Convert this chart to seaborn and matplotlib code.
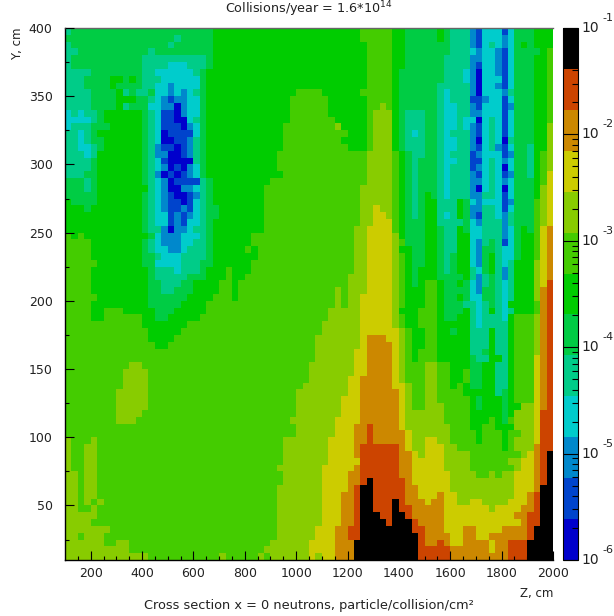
import matplotlib
matplotlib.use("Agg")
import matplotlib.pyplot as plt
import numpy as np
import pandas as pd
import seaborn as sns
from matplotlib.colors import ListedColormap

# contour bands, low to high (a..m), 13 bands over 1e-6..1e-1
band_colors = ['#0000cc', '#0044cc', '#0088cc', '#00cccc', '#00cc88', '#00cc44', '#00cc00',
               '#44cc00', '#88cc00', '#cccc00', '#cc8800', '#cc4400', '#000000']
band_codes = 'abcdefghijklm'

z_edges = list(range(100, 2001, 25))
y_edges = list(range(400, 9, -5))

# one line per Y row from the top, "band + column where that band stops"
flux_rows = [
    "e1 f23 g46 h51 g53 f58 g59 f60 e63 c64 b65 d68 b69 d70 f73 g76",
    "f17 e18 f23 g46 h51 g53 f58 g59 f60 e63 c64 b65 d68 c69 d70 f73 g76",
    "e1 f16 e17 f23 g47 h51 g53 f60 e63 c64 b65 d66 e67 d68 c69 d70 f71 g72 f73 g76",
    "e2 f13 e14 f23 g47 h51 g53 f60 e63 d64 c65 d67 c68 b69 d70 f74 g75 h76",
    "e1 f12 e22 f23 g47 h51 g53 f59 e63 c65 d67 c68 b69 d70 f73 g75 h76",
    "e1 f12 e16 d19 e22 f23 g47 h51 g53 f59 e63 c64 b65 d67 c68 b69 d70 f73 g75 h76",
    "e4 f12 e14 d20 e21 f22 g47 h51 g52 f59 e62 d63 c64 a65 d67 c68 b69 d70 f73 g75 h76",
    "e3 f7 g9 f10 g11 f12 e15 d21 f22 g47 h51 g52 f59 e62 d63 c64 a65 d68 b69 d70 f73 g75 h76",
    "e3 f7 g8 f12 e14 d16 c17 d21 f22 g47 h51 g52 f58 e63 c64 a65 d67 c68 b69 d70 f73 g75 h76",
    "e4 f8 g9 e10 f11 e13 f14 d16 c17 d18 c19 d20 e21 f22 g36 h40 g46 h51 g52 f58 e59 d60 e63 c64 a65 d68 c69 e70 f73 g75 h76",
    "e4 f8 g11 f13 e14 d15 c16 b17 c19 d21 f22 g35 h41 g47 h51 g52 f58 e59 d60 e63 b65 c66 d68 b69 d70 f73 g75 h76",
    "e4 f8 g9 e10 f13 d15 c17 a18 c19 d21 f22 g35 h41 g47 h49 i50 h51 g52 f58 e59 d61 e63 c64 b65 d68 b69 c70 f73 g75 h76",
    "d1 e2 d3 e5 f6 g12 f13 e14 d15 b17 a18 c19 d21 f22 g35 h41 g47 h48 i51 g52 f53 e56 f58 e59 d61 e63 c65 d68 b69 d70 f73 g75 h76",
    "d4 e5 f6 g12 f13 e14 d15 b17 a19 d20 e21 f22 g35 h42 g47 h48 i51 g52 f53 e56 f58 e59 d61 e62 d64 a65 d66 e67 d68 b69 d70 f73 g75 h76",
    "d1 e4 f7 g12 f13 e14 d15 b18 a19 c20 d21 f22 g34 h42 i43 g47 h48 i51 g52 f53 e56 f58 e59 d61 e62 d63 c64 b65 d66 e67 d68 b69 d70 f73 g75 i76",
    "e2 d3 e4 f5 g12 f13 e14 d15 a16 b20 d21 f22 g34 h44 g47 h48 i51 g52 f53 e54 d55 e56 f58 e59 d60 e63 c64 b65 d66 e67 d68 b69 d70 f73 g75 i76",
    "e2 d3 e4 f6 g12 f13 e14 d15 a17 b19 c20 e21 f22 g34 h43 g47 h48 i51 g52 f53 e56 f58 e59 d61 e63 c64 a65 d66 e67 d68 a69 e70 f73 g75 i76",
    "e2 d4 e5 f6 g12 f13 e14 c15 b17 a18 b19 c20 e21 f22 g34 h44 g47 h48 i51 g52 f53 e56 f58 e59 d61 e63 c64 b65 d66 e67 c68 b69 d70 f72 e73 g75 i76",
    "e3 d4 e5 g12 f13 e14 c16 a18 b19 c20 e21 f22 g33 h47 i51 h52 g53 f54 e56 f58 e59 d60 e63 b64 c65 d68 b69 c70 f72 e73 g74 h75 i76",
    "e4 f5 g12 f13 e14 d15 b16 a20 e21 f22 g33 h47 i51 h52 g53 f54 e55 f58 e59 d61 e63 b65 d66 e67 d68 c69 d70 f72 e73 g74 h75 i76",
    "e4 f5 g12 f13 e14 d15 c16 a17 b18 a19 c20 d21 f22 g33 h47 i51 h52 g53 f54 e55 f58 e59 d60 e63 b64 c65 d66 e67 d68 a69 d70 f72 e73 g74 h75 i76",
    "e3 f5 g12 f13 e14 c15 a16 b17 a18 b19 c20 d21 f22 g34 h47 i51 h52 g53 f54 e55 f58 e59 d60 e63 c64 b65 d66 e67 d68 b69 c70 f72 e73 g74 h75 j76",
    "f3 e4 f5 g12 f13 e14 d15 c16 a17 b21 e22 f23 g32 h47 i51 h52 g53 f54 e55 f58 e59 d60 e63 c65 d66 e67 d68 c69 d70 f73 g74 h75 j76",
    "f3 e4 f5 g13 e14 d15 c16 a18 c20 d21 e22 f23 g31 h46 i51 h52 g53 f54 e55 f58 e59 d60 e63 c64 a65 d66 e67 d68 a69 d70 f73 g74 i75 j76",
    "f5 g12 f13 e14 d15 c16 b17 a19 b20 c21 e22 f23 g31 h46 i51 h52 g53 f54 e55 f56 g57 f58 e59 d60 e63 c65 e67 d68 b69 d70 f73 g74 i75 j76",
    "g1 f5 g12 f13 e14 d15 c16 b18 a19 b20 d21 e22 f23 g31 h46 i51 h52 g53 f54 e55 f56 g58 e61 g62 f63 d64 c65 d68 b69 c70 f73 h74 i75 j76",
    "g3 f4 g12 f13 e14 d15 c16 b18 c19 b20 d21 e22 f24 g31 h46 i48 j49 i51 h52 g53 f54 e55 f56 g58 e61 g62 f63 c65 e67 d68 b69 d70 f73 h74 i75 j76",
    "g12 f13 e14 d16 b17 c18 b19 c20 d21 e22 f24 g31 h46 i48 j50 i51 h52 g53 f54 e55 f56 g58 e59 d60 e61 g62 f63 c64 b65 e67 d68 c69 e70 f73 h74 i75 j76",
    "g12 f13 e14 d16 b17 c18 b19 d21 e22 f23 g31 h46 i48 j51 h52 g53 f56 g58 e62 f63 d64 c65 e68 c69 e70 f73 h74 i75 j76",
    "g12 f13 e15 c16 a17 c19 d20 e22 f23 g31 h45 i47 j51 h52 g53 f56 g58 f59 e61 g62 f63 d65 e68 c69 d70 f71 g72 f73 h74 j75 k76",
    "h1 g2 h3 g13 f14 d15 c18 d21 e22 f23 g29 h45 i47 j51 i52 g53 f56 g58 f59 e61 g63 d65 e68 c69 d70 f71 g73 h74 j75 k76",
    "h4 g12 f13 e14 d15 c18 d20 e22 f23 g29 h45 i47 j51 i52 h53 f56 g58 f59 e61 g63 d64 c65 e66 f67 e68 b69 d70 f71 g73 h74 j75 k76",
    "h4 g12 f13 e14 d16 c18 d19 e22 f23 g28 h29 g30 h45 i47 j51 i52 g54 f56 g58 f59 e61 g63 d64 c65 f67 e68 d70 f71 g73 h74 j75 k76",
    "h4 g12 f14 e15 d18 e22 f23 g30 h45 i47 j51 i52 h53 g54 f56 g58 f59 e60 f61 g63 d64 c65 f66 g67 e68 d70 f71 g73 h74 j75 k76",
    "h5 g12 f14 d18 e21 f23 g29 h45 i47 j51 i52 h53 g54 f56 g58 f59 e60 f61 g63 d64 c65 f66 g67 e68 d69 e70 g73 i74 j75 k76",
    "h4 g13 f14 e17 d18 e21 f22 g25 h26 g29 h45 i47 j51 i52 h53 g54 f55 g58 f59 e60 f61 g63 e64 d65 f66 g67 e68 c69 e70 g73 i74 j75 k76",
    "h4 g13 f14 e19 f22 g25 h26 g28 h44 i47 j51 i52 h53 g54 f55 g58 f62 g63 e64 c65 e66 f67 e68 c69 e70 g73 i74 j75 k76",
    "h4 g13 f15 e18 f20 g24 h26 g27 h44 i47 j51 i52 h53 g54 f55 g56 h58 g59 f61 g62 f63 d64 c65 e66 f67 e68 d69 e70 g73 i74 j75 l76",
    "h4 g13 f15 e17 f20 g24 h26 g27 h42 i43 h44 i47 j51 i52 h53 g56 h58 g59 f63 d64 c65 f67 e68 d69 e70 g73 i74 k75 l76",
    "h5 g13 f19 g23 h26 g27 h42 i43 h44 i46 j51 i52 h53 g56 h58 g59 f61 g62 f63 d65 f67 e68 d69 e70 g73 i74 k75 l76",
    "h4 g13 f18 g22 h42 i43 h44 i46 j51 i52 h53 g56 h58 g59 f62 e64 d65 e66 f67 e68 d69 g73 h74 k75 l76",
    "h4 g6 h9 g14 f17 g22 h41 i46 j51 i52 g55 h58 g59 f62 g63 e64 d65 e66 g67 e68 d69 e70 g73 h74 k75 l76",
    "h4 g6 h12 g14 f16 g21 h41 i46 j51 i52 h53 g55 h58 g59 f61 g63 e64 d65 e68 d69 g70 h73 i74 k75 l76",
    "h12 g19 h40 i46 j51 i52 h53 g55 h58 g63 e64 d65 e69 g70 h73 i74 k75 l76",
    "h13 g18 h40 i46 j52 i53 h54 g56 h58 g60 f61 g63 e66 g67 e69 g70 h73 i74 k75 l76",
    "h13 g17 h39 i46 j47 k50 j52 i53 h54 g56 h58 g63 e66 g67 e69 g70 h73 i74 k75 l76",
    "h14 g16 h39 i46 j47 k51 j52 i53 h54 g56 h58 g63 e66 g67 e69 g70 h73 i74 k75 l76",
    "h39 i45 j47 k51 j52 i53 h54 g55 h58 g63 e65 f66 g67 e69 g70 h73 i74 k75 l76",
    "h39 i45 j47 k51 j52 i53 h54 g55 h58 g63 f64 e66 g68 e69 g70 h73 j74 k75 l76",
    "h10 i12 h38 i45 j47 k51 j52 i53 h56 i58 h60 g63 f65 g67 e69 g70 h73 j74 k75 l76",
    "h9 i13 h38 i45 j47 k51 j52 i53 h56 i58 h60 g62 h63 f65 g67 e69 g70 h73 j74 k75 l76",
    "h9 i13 h38 i44 j46 k51 j52 i53 h56 i58 h60 g62 h63 f65 g67 e69 g70 h73 j74 k75 l76",
    "h9 i13 h37 i44 j46 k51 j53 i54 h56 i58 h60 g61 h62 g63 f65 g67 e69 g70 h73 j74 k75 l76",
    "h8 i13 h36 i44 j46 k52 j53 i54 h56 i58 h62 g67 e68 f69 g70 h73 j74 k75 l76",
    "h8 i13 h36 i43 j46 k52 j53 i54 h56 i58 h63 g64 f65 g68 f69 g70 h73 j74 k75 l76",
    "h8 i13 h36 i43 j46 k52 j53 i54 h56 i59 h63 g64 f65 g68 f69 g71 i73 j74 k75 l76",
    "h8 i12 h36 i43 j46 k52 j53 i59 h63 g68 f69 g70 i73 j74 l76",
    "h8 i11 h35 i42 j46 k52 j53 i59 h63 g66 h67 g68 f69 h70 i73 j74 l76",
    "h36 i42 j45 k47 l48 k52 j53 i60 h63 g65 h67 g70 i73 j74 l76",
    "h36 i42 j45 k47 l48 k53 j54 i60 h64 g65 h68 g69 h71 i73 j74 l76",
    "i1 h4 i5 h34 i41 j45 k47 l48 k53 j54 i56 j58 i60 h64 g65 h68 g69 h70 i73 j74 l76",
    "i1 h3 i5 h34 i41 j45 k46 l52 k53 j54 i56 j59 i61 h68 g69 h70 i73 k74 l76",
    "i1 h3 i5 h34 i41 j45 k46 l52 k54 j55 i56 j59 i63 h71 i72 j73 k74 l75 m76",
    "i1 h3 i5 h34 i41 j46 l52 k54 j59 i63 h69 i71 j73 k74 l75 m76",
    "i1 h3 i5 h33 i40 j45 k46 l52 k54 j59 i63 h70 i71 j73 k74 l75 m76",
    "i2 h3 i5 h34 i40 j44 k46 l52 k54 j60 i64 h66 i67 h68 i70 j73 k74 l75 m76",
    "i2 h3 i5 h34 i40 j44 k46 l47 m48 l53 k54 j60 i70 j73 k74 l75 m76",
    "i2 h3 i5 h33 i40 j44 k45 l46 m48 l53 k55 j60 i70 j73 k74 m76",
    "i2 h3 i5 h33 i40 j43 k45 l46 m48 l53 k55 j58 k59 j61 i70 j72 k73 l74 m76",
    "i2 h3 i4 h5 i6 h33 i40 j43 k45 l46 m48 l51 m52 l53 k56 j57 k59 j61 i63 j65 i69 j72 k73 l74 m76",
    "i2 h4 i5 h33 i40 j43 k45 l46 m48 l51 m52 l54 k59 j66 i67 j71 k73 l74 m76",
    "i5 h33 i40 j43 k45 l46 m49 l51 m53 l54 k59 j70 k72 l74 m76",
    "i4 h33 i40 j43 k45 l46 m50 l51 m54 l55 k59 j71 k72 l74 m76",
    "i7 h33 i39 j42 k44 l46 m54 l56 k59 j62 k64 j68 k72 l73 m76",
    "i2 h3 i6 h33 i39 j42 k44 l46 m55 l56 k60 j62 k64 j66 k72 l73 m76",
    "i6 h8 i10 h32 i38 j42 k45 m55 l56 k58 l59 k60 j62 k66 j67 k69 l72 m76",
    "i10 h31 i38 j42 k45 m55 l60 k66 j67 k69 l72 m76",
    "i13 h24 i25 h30 i31 h32 i38 j39 i40 j42 k45 m55 l60 k69 l72 m76",
]

z_major = [200, 400, 600, 800, 1000, 1200, 1400, 1600, 1800, 2000]
z_minor = [150, 250, 300, 350, 450, 500, 550, 650, 700, 750, 850, 900, 950, 1050, 1100, 1150,
           1250, 1300, 1350, 1450, 1500, 1550, 1650, 1700, 1750, 1850, 1900, 1950]
y_major = [50, 100, 150, 200, 250, 300, 350, 400]
y_minor = [25, 75, 125, 175, 225, 275, 325, 375]
decades = [-6, -5, -4, -3, -2, -1]

LOW, HIGH = -6.0, -1.0


def row_to_logflux(text):
    out = []
    for token in text.split():
        stop = int(token[1:])
        level = band_codes.index(token[0])
        value = LOW + (level + 0.5) * (HIGH - LOW) / len(band_codes)
        out.extend([value] * (stop - len(out)))
    return out


def px(x, y):
    return x / 614, 1 - y / 616


flux = pd.DataFrame([row_to_logflux(r) for r in flux_rows],
                    index=y_edges[:-1], columns=z_edges[:-1])

sns.set_theme(style="white")
plt.rcParams['font.family'] = ['DejaVu Sans']

fig = plt.figure(figsize=(6.14, 6.16), dpi=100)
ax = fig.add_axes([65 / 614, 56 / 616, 488 / 614, 532 / 616])
cax = fig.add_axes([563 / 614, 56 / 616, 15 / 614, 532 / 616])

sns.heatmap(flux, ax=ax, cmap=ListedColormap(band_colors), vmin=LOW, vmax=HIGH,
            cbar=True, cbar_ax=cax, xticklabels=False, yticklabels=False)

zpos = lambda z: (z - 100) / 25
ypos = lambda y: (400 - y) / 5

ax.set_axisbelow(False)
ax.set_xticks([zpos(z) for z in z_major])
ax.set_xticklabels([str(z) for z in z_major], rotation=0, fontsize=9, color='#222222')
ax.set_xticks([zpos(z) for z in z_minor], minor=True)
ax.set_yticks([ypos(y) for y in y_major])
ax.set_yticklabels([str(y) for y in y_major], rotation=0, fontsize=9, color='#222222')
ax.set_yticks([ypos(y) for y in y_minor], minor=True)
ax.tick_params(axis='both', which='major', direction='in', length=6.5, width=0.8, color='black')
ax.tick_params(axis='both', which='minor', direction='in', length=3.2, width=0.8, color='black')
ax.tick_params(axis='x', which='both', bottom=True, pad=5)
ax.tick_params(axis='y', which='both', left=True, pad=9)
ax.set_xlabel('')
ax.set_ylabel('')
for side, spine in ax.spines.items():
    spine.set_visible(side in ('left', 'bottom', 'top'))
    spine.set_color('black' if side != 'top' else '#666666')
    spine.set_linewidth(1.0)

# colour bar: log ticks pointing inward from the right edge
cbar = ax.collections[0].colorbar
cbar.outline.set_visible(True)
cbar.outline.set_edgecolor('black')
cbar.outline.set_linewidth(0.8)
cax.set_axisbelow(False)
cax.set_yticks(decades)
cax.set_yticklabels([])
cax.set_yticks([d + np.log10(m) for d in decades[:-1] for m in range(2, 10)], minor=True)
cax.tick_params(axis='y', which='major', right=True, direction='in', length=11, width=0.8, color='black')
cax.tick_params(axis='y', which='minor', right=True, direction='in', length=4, width=0.8, color='black')

for i, d in enumerate(decades):
    ytick = 560 - i * 532 / 5
    fig.text(*px(581, ytick), '10', fontsize=10, ha='left', va='center', color='#222222')
    fig.text(*px(602, ytick - 10), str(d), fontsize=8, ha='left', va='center', color='#222222')

fig.text(*px(309, 9), 'Collisions/year = 1.6*10$^{14}$', fontsize=9.2, ha='center', va='center', color='#222222')
fig.text(*px(309, 605), 'Cross section x = 0 neutrons, particle/collision/cm²', fontsize=9.3,
         ha='center', va='center', color='#222222')
fig.text(*px(553, 593), 'Z, cm', fontsize=8.5, ha='right', va='center', color='#222222')
fig.text(*px(18, 28), 'Y, cm', fontsize=8.5, rotation=90, ha='center', va='top', color='#222222')

fig.savefig('out.png', dpi=100)
